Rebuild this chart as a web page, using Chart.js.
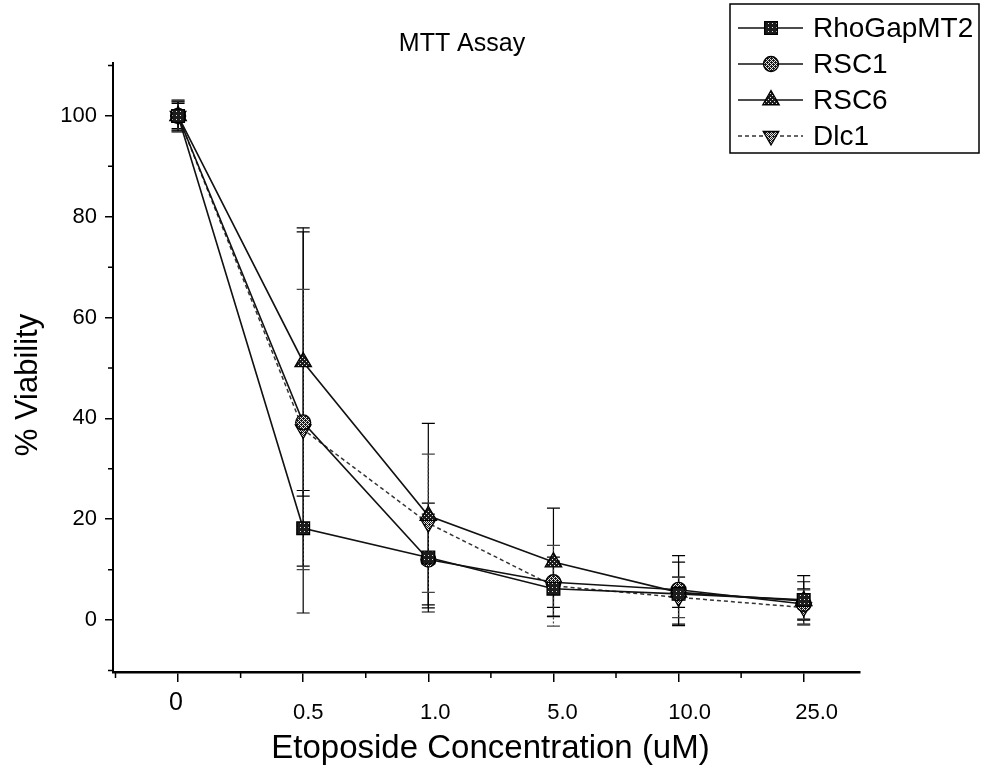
<!DOCTYPE html>
<html>
<head>
<meta charset="utf-8">
<title>MTT Assay</title>
<script src="https://cdn.jsdelivr.net/npm/chart.js@4.4.0/dist/chart.umd.min.js"></script>
<style>
  html, body { margin: 0; padding: 0; background: #fff; }
  #wrap { width: 984px; height: 774px; position: relative; }
</style>
</head>
<body>
<div id="wrap"><canvas id="c" width="984" height="774"></canvas></div>
<script>
// Etoposide concentrations (uM), plotted at evenly spaced positions
const concentrations = ['0', '0.5', '1.0', '5.0', '10.0', '25.0'];

// Mean % viability per cell line
const rhoGapMT2 = [100, 18.2, 12.4, 6.2, 5.2, 4.0];
const rsc1      = [100, 39.2, 12.0, 7.5, 6.0, 3.2];
const rsc6      = [100, 51.2, 20.7, 11.5, 5.5, 3.8];
const dlc1      = [100, 37.8, 19.2, 6.8, 4.5, 2.5];

// Error bar half-widths (same units as viability)
const rhoGapMT2Err = [2.5, 7.5, 10.8, 5.5, 6.3, 4.8];
const rsc1Err      = [3.0, 37.8, 9.0, 5.0, 6.8, 3.0];
const rsc6Err      = [2.8, 26.6, 18.3, 10.7, 3.0, 3.8];
const dlc1Err      = [3.2, 27.8, 13.7, 8.0, 4.0, 3.5];

const seriesNames = ['RhoGapMT2', 'RSC1', 'RSC6', 'Dlc1'];
const yMajorTicks = [0, 20, 40, 60, 80, 100];
const yMinorTicks = [-10, 10, 30, 50, 70, 90, 110];

const FONT = "'Liberation Sans', Arial, Helvetica, sans-serif";
const canvas = document.getElementById('c');
const ctx2d = canvas.getContext('2d');

// Dithered grey fills for the markers
function dither(level) {
  const bayer = [[0, 8, 2, 10], [12, 4, 14, 6], [3, 11, 1, 9], [15, 7, 13, 5]];
  const c = document.createElement('canvas');
  c.width = 4; c.height = 4;
  const g = c.getContext('2d');
  for (let y = 0; y < 4; y++) {
    for (let x = 0; x < 4; x++) {
      g.fillStyle = bayer[y][x] < level * 16 ? '#1c1c1c' : '#e6e6e6';
      g.fillRect(x, y, 1, 1);
    }
  }
  return ctx2d.createPattern(c, 'repeat');
}

function toPoints(values) {
  return values.map((v, i) => ({ x: i, y: v }));
}

const datasets = [
  {
    label: seriesNames[0], data: toPoints(rhoGapMT2), errors: rhoGapMT2Err,
    borderColor: '#111', borderWidth: 1.6, borderDash: [],
    pointStyle: 'rect', pointRadius: 9, pointRotation: 0,
    pointBackgroundColor: dither(0.88), pointBorderColor: '#000', pointBorderWidth: 1.3,
    errorDash: []
  },
  {
    label: seriesNames[1], data: toPoints(rsc1), errors: rsc1Err,
    borderColor: '#111', borderWidth: 1.6, borderDash: [],
    pointStyle: 'circle', pointRadius: 7.5, pointRotation: 0,
    pointBackgroundColor: dither(0.62), pointBorderColor: '#000', pointBorderWidth: 1.3,
    errorDash: []
  },
  {
    label: seriesNames[2], data: toPoints(rsc6), errors: rsc6Err,
    borderColor: '#111', borderWidth: 1.6, borderDash: [],
    pointStyle: 'triangle', pointRadius: 9.5, pointRotation: 0,
    pointBackgroundColor: dither(0.85), pointBorderColor: '#000', pointBorderWidth: 1.3,
    errorDash: []
  },
  {
    label: seriesNames[3], data: toPoints(dlc1), errors: dlc1Err,
    borderColor: '#333', borderWidth: 1.5, borderDash: [4, 3],
    pointStyle: 'triangle', pointRadius: 9, pointRotation: 180,
    pointBackgroundColor: dither(0.55), pointBorderColor: '#000', pointBorderWidth: 1.3,
    errorDash: [2, 2]
  }
];
datasets.forEach(d => { d.fill = false; d.tension = 0; d.clip = false; });

// Vertical error bars with caps, drawn underneath the series
const errorBars = {
  id: 'errorBars',
  beforeDatasetsDraw(chart) {
    const ctx = chart.ctx;
    const xs = chart.scales.x, ys = chart.scales.y;
    const cap = 6.5;
    ctx.save();
    chart.data.datasets.forEach(ds => {
      ctx.strokeStyle = ds.errorDash.length ? '#444' : '#000';
      ctx.lineWidth = 1.2;
      ctx.setLineDash(ds.errorDash);
      ds.data.forEach((p, i) => {
        const e = ds.errors[i];
        const x = xs.getPixelForValue(p.x);
        const yt = ys.getPixelForValue(p.y + e);
        const yb = ys.getPixelForValue(p.y - e);
        ctx.beginPath();
        ctx.moveTo(x, yt); ctx.lineTo(x, yb);
        ctx.stroke();
        ctx.setLineDash([]);
        ctx.beginPath();
        ctx.moveTo(x - cap, yt); ctx.lineTo(x + cap, yt);
        ctx.moveTo(x - cap, yb); ctx.lineTo(x + cap, yb);
        ctx.stroke();
        ctx.setLineDash(ds.errorDash);
      });
    });
    ctx.restore();
  }
};

// Minor ticks, x tick labels, titles and the legend box
const decorations = {
  id: 'decorations',
  afterDraw(chart) {
    const ctx = chart.ctx;
    const xs = chart.scales.x, ys = chart.scales.y;
    const area = chart.chartArea;
    ctx.save();
    ctx.strokeStyle = '#000';
    ctx.lineWidth = 1.5;
    ctx.setLineDash([]);

    // minor ticks on y
    ctx.beginPath();
    yMinorTicks.forEach(v => {
      const y = ys.getPixelForValue(v);
      ctx.moveTo(area.left, y); ctx.lineTo(area.left - 5, y);
    });
    // minor ticks on x, halfway between concentrations
    for (let i = -1; i < concentrations.length; i++) {
      const v = i + 0.5;
      if (v < xs.min || v > xs.max) continue;
      const x = xs.getPixelForValue(v);
      ctx.moveTo(x, area.bottom); ctx.lineTo(x, area.bottom + 6);
    }
    ctx.stroke();

    // x tick labels
    ctx.fillStyle = '#000';
    ctx.textAlign = 'center';
    ctx.textBaseline = 'middle';
    concentrations.forEach((lab, i) => {
      const x = xs.getPixelForValue(i);
      if (i === 0) {
        ctx.font = '25px ' + FONT;
        ctx.fillText(lab, x - 2, area.bottom + 31);
      } else {
        ctx.font = '22px ' + FONT;
        ctx.fillText(lab, x + 3 + i * 2, area.bottom + 41);
      }
    });

    // chart title
    ctx.font = '25px ' + FONT;
    ctx.fillText('MTT Assay', 462, 44);

    // axis titles
    ctx.font = '33px ' + FONT;
    ctx.fillText('Etoposide Concentration (uM)', (area.left + area.right) / 2 + 4, 749);
    ctx.font = '31px ' + FONT;
    ctx.save();
    ctx.translate(28, 385);
    ctx.rotate(-Math.PI / 2);
    ctx.fillText('% Viability', 0, 0);
    ctx.restore();

    // legend
    const box = { left: 730, top: 4, right: 979, bottom: 153 };
    ctx.lineWidth = 1.5;
    ctx.strokeStyle = '#000';
    ctx.strokeRect(box.left, box.top, box.right - box.left, box.bottom - box.top);
    ctx.textAlign = 'left';
    ctx.font = '28px ' + FONT;
    chart.data.datasets.forEach((ds, i) => {
      const y = 28 + i * 36;
      ctx.strokeStyle = ds.borderColor;
      ctx.lineWidth = ds.borderWidth;
      ctx.setLineDash(ds.borderDash);
      ctx.beginPath();
      ctx.moveTo(738, y); ctx.lineTo(803, y);
      ctx.stroke();
      ctx.setLineDash([]);
      ctx.fillStyle = ds.pointBackgroundColor;
      ctx.strokeStyle = ds.pointBorderColor;
      ctx.lineWidth = ds.pointBorderWidth;
      Chart.helpers.drawPoint(ctx, {
        pointStyle: ds.pointStyle, rotation: ds.pointRotation,
        radius: ds.pointRadius, borderWidth: ds.pointBorderWidth
      }, 771, y);
      ctx.fillStyle = '#000';
      ctx.fillText(ds.label, 813, y + 1);
    });
    ctx.restore();
  }
};

new Chart(canvas, {
  type: 'line',
  data: { datasets },
  options: {
    responsive: false,
    animation: false,
    layout: { padding: { left: 0, right: 124, top: 63, bottom: 0 } },
    plugins: {
      legend: { display: false },
      title: { display: false },
      tooltip: { enabled: false }
    },
    scales: {
      x: {
        type: 'linear',
        min: -0.52,
        max: 5.45,
        afterBuildTicks: s => { s.ticks = concentrations.map((_, i) => ({ value: i })); },
        afterFit: s => { s.height = 102; },
        border: { display: true, color: '#000', width: 2.5 },
        grid: { drawOnChartArea: false, drawTicks: true, tickLength: 10, color: '#000', lineWidth: 1.5 },
        ticks: { display: false }
      },
      y: {
        min: -10.3,
        max: 110.5,
        afterBuildTicks: s => { s.ticks = yMajorTicks.map(v => ({ value: v })); },
        afterFit: s => { s.width = 113; },
        border: { display: true, color: '#000', width: 2 },
        grid: { drawOnChartArea: false, drawTicks: true, tickLength: 8, color: '#000', lineWidth: 1.5 },
        ticks: { color: '#000', padding: 8, font: { family: FONT, size: 22 } }
      }
    }
  },
  plugins: [errorBars, decorations]
});
</script>
</body>
</html>
